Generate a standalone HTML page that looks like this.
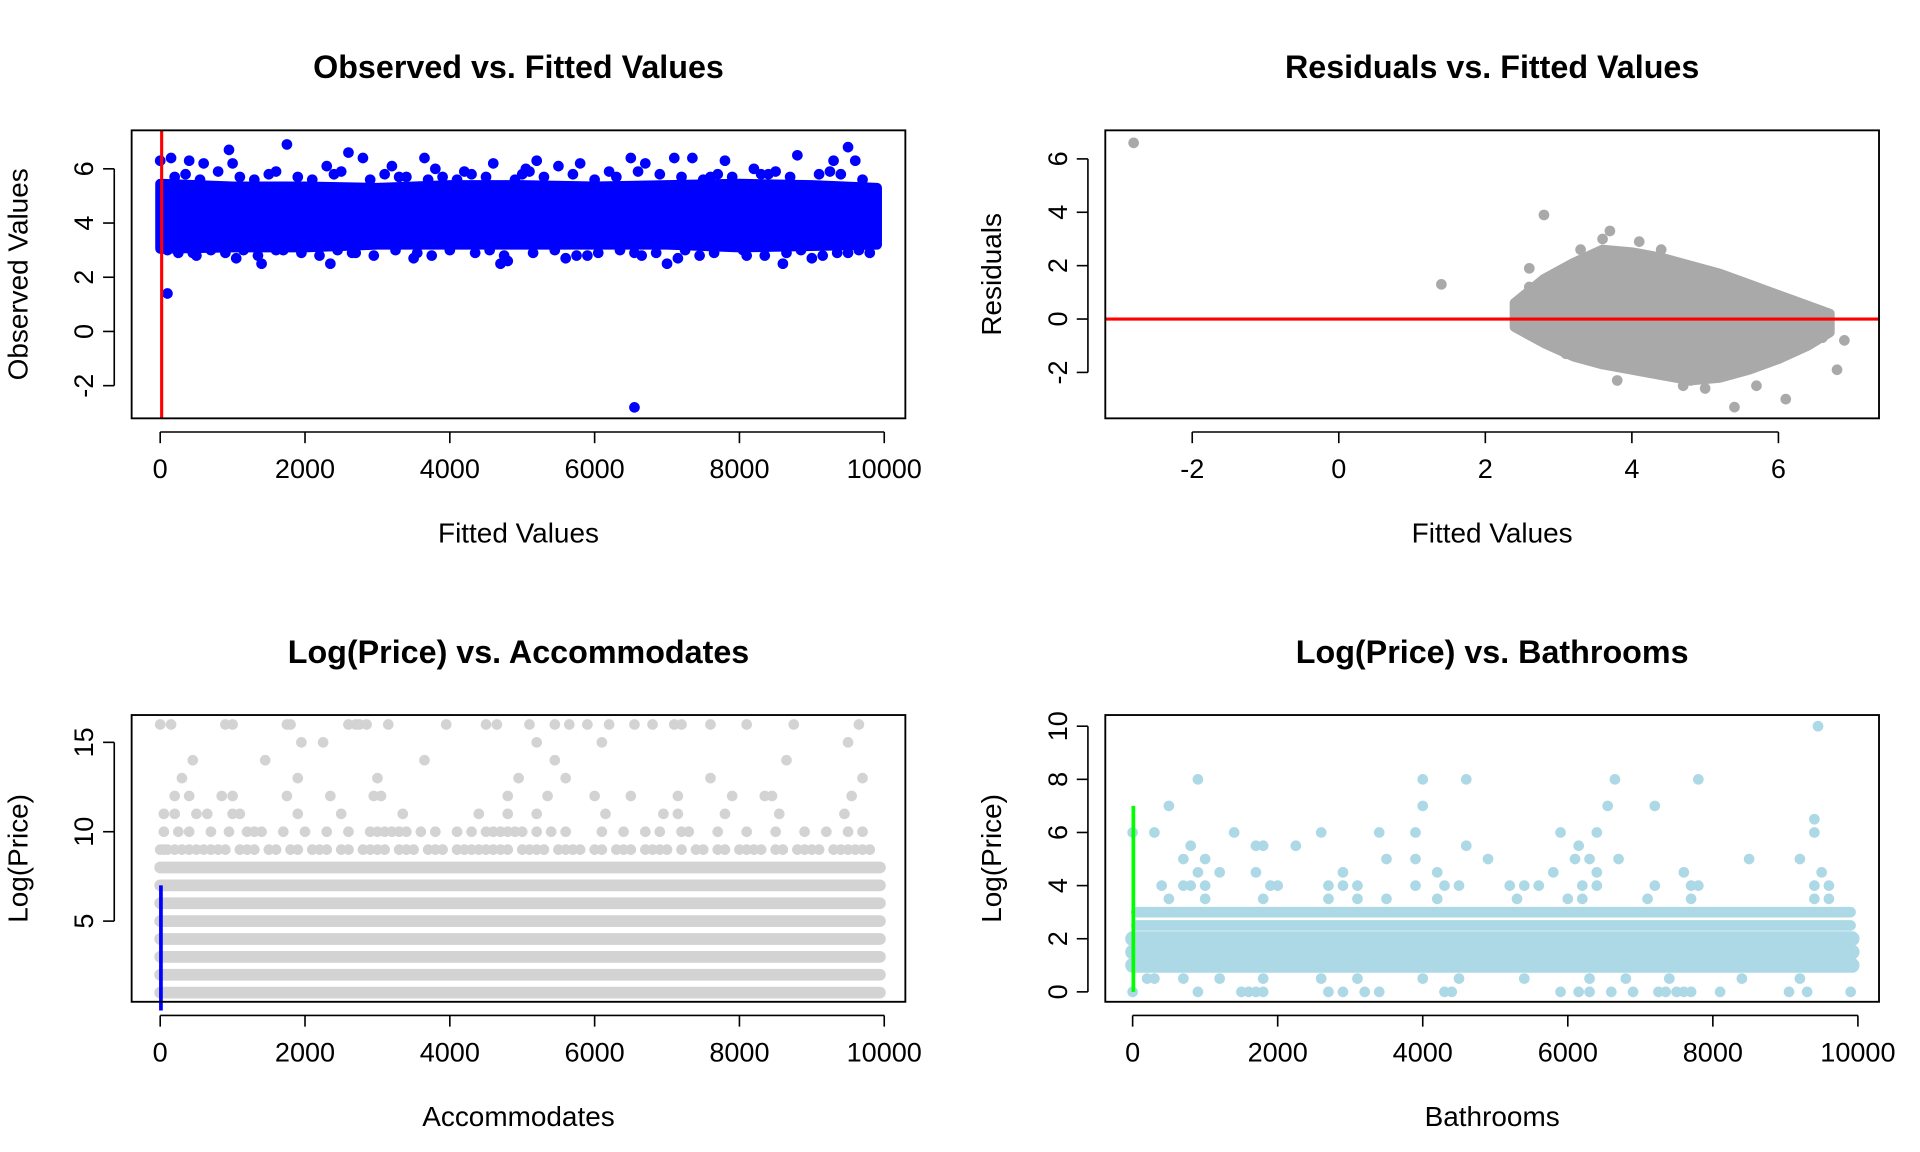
<!DOCTYPE html>
<html><head><meta charset="utf-8">
<style>
html,body{margin:0;padding:0;background:#fff;}
svg{display:block;}
text{font-family:"Liberation Sans",Arial,sans-serif;fill:#000;}
</style></head>
<body>
<svg id="chart" width="1920" height="1152" viewBox="0 0 1546 928" preserveAspectRatio="none" xmlns="http://www.w3.org/2000/svg"></svg>
<script>
// ---------- Panel 1 data: Observed vs Fitted ----------
const p1BinX = [0,1000,2000,3000,4000,5000,6000,7000,8000,9000,9900];
const p1BandLow = [3.05,3.1,3.1,3.2,3.2,3.2,3.2,3.2,3.1,3.15,3.2];
const p1BandHigh = [5.45,5.35,5.35,5.3,5.4,5.4,5.35,5.4,5.45,5.4,5.3];
const p1OutX = [0,150,400,600,950,1000,1750,2300,2600,2800,3200,3650,3800,4600,5050,5200,5500,5800,6500,6700,7100,7350,7800,8200,8800,9300,9500,9600,100,450,1050,1400,1600,2350,2700,3500,4700,4800,5600,5900,6550,7000,7150,8100,8600,9000,9500,1500,3300,4200,5000,6200,7600,8400,100,6550];
const p1OutY = [6.3,6.4,6.3,6.2,6.7,6.2,6.9,6.1,6.6,6.4,6.1,6.4,6.0,6.2,6.0,6.3,6.1,6.2,6.4,6.2,6.4,6.4,6.3,6.0,6.5,6.3,6.8,6.3,3.0,2.9,2.7,2.5,3.0,2.5,2.9,2.7,2.5,2.6,2.7,2.8,2.9,2.5,2.7,2.8,2.5,2.7,2.9,5.8,5.7,5.9,5.8,5.9,5.7,5.8,1.4,-2.8];
const p1FringeX = [200,350,550,800,1100,1300,1600,1900,2100,2400,2500,2900,3100,3400,3700,3900,4100,4300,4500,4900,5100,5300,5700,6000,6300,6600,6900,7200,7500,7700,7900,8300,8500,8700,9100,9250,9400,9700,
 250,500,700,900,1150,1350,1700,1950,2200,2450,2650,2950,3250,3550,3750,4000,4350,4550,4750,5150,5450,5750,6050,6350,6650,6850,7250,7450,7650,8050,8350,8650,8850,9150,9350,9650,9800];
const p1FringeY = [5.7,5.8,5.6,5.9,5.7,5.6,5.9,5.7,5.6,5.8,5.9,5.6,5.8,5.7,5.6,5.7,5.6,5.8,5.7,5.6,5.9,5.7,5.8,5.6,5.7,5.9,5.8,5.7,5.6,5.8,5.7,5.8,5.9,5.7,5.8,5.9,5.8,5.6,
 2.9,2.8,3.0,2.9,3.0,2.8,3.0,2.9,2.8,3.0,2.9,2.8,3.0,2.9,2.8,3.0,2.9,3.0,2.8,2.9,3.0,2.8,2.9,3.0,2.8,2.9,3.0,2.8,2.9,3.0,2.8,2.9,3.0,2.8,2.9,3.0,2.9];
// ---------- Panel 2 data: Residuals vs Fitted ----------
const p2CloudX = [2.4,2.8,3.2,3.6,4.0,4.4,4.8,5.2,5.6,6.0,6.4,6.7];
const p2Upper = [0.6,1.5,2.1,2.6,2.5,2.3,2.0,1.7,1.3,0.9,0.5,0.2];
const p2Lower = [-0.3,-0.9,-1.4,-1.7,-1.9,-2.1,-2.3,-2.2,-1.9,-1.5,-1.0,-0.5];
const p2OutX = [-2.8,1.4,2.8,3.7,3.6,3.3,4.1,4.4,6.9,6.8,6.1,5.4,5.0,3.2,5.7,2.6,2.6,6.3,4.7,4.8,3.8,6.6,3.1];
const p2OutY = [6.6,1.3,3.9,3.3,3.0,2.6,2.9,2.6,-0.8,-1.9,-3.0,-3.3,-2.6,2.0,-2.5,1.9,1.2,-0.4,-2.5,-2.3,-2.3,-0.7,-1.3];
// ---------- Panel 3 data: Log(Price) vs Accommodates ----------
const p3DenseRows = [1,2,3,4,5,6,7,8];
const p3SparseRows = [9,10,11,12,13,14,15,16];
const p3SparseX = [
 [0,50,100,200,300,400,500,600,700,800,900,1100,1200,1300,1500,1600,1800,1900,2100,2200,2300,2500,2600,2800,2900,3000,3100,3300,3400,3500,3700,3800,3900,4100,4200,4300,4400,4500,4600,4700,4800,5000,5100,5200,5300,5500,5600,5700,5800,6000,6100,6300,6400,6500,6700,6800,6900,7000,7200,7400,7500,7700,7800,8000,8100,8200,8300,8500,8600,8800,8900,9000,9100,9300,9400,9500,9600,9700,9800],
 [50,250,400,700,950,1200,1300,1400,1700,2000,2300,2600,2900,3000,3100,3200,3300,3400,3600,3800,4100,4300,4500,4600,4700,4800,4900,5000,5200,5400,5600,6100,6400,6700,6900,7200,7300,7700,8100,8500,8900,9200,9500,9700],
 [50,200,500,650,1000,1100,1900,2500,3350,4400,4800,5200,6150,6950,7150,7800,8550,9450],
 [200,400,850,1000,1750,2350,2950,3050,4800,5350,6000,6500,7150,7900,8350,8450,9550],
 [300,1900,3000,4950,5600,7600,9700],
 [450,1450,3650,5450,8650],
 [1950,2250,5200,6100,9500],
 [0,150,900,1000,1750,1800,2600,2700,2750,2850,3150,3950,4500,4650,5100,5450,5650,5900,6200,6550,6800,7100,7200,7600,8100,8750,9650]
];
// ---------- Panel 4 data: Log(Price) vs Bathrooms ----------
const p4DenseRows = [1,1.5,2];
const p4MidRows = [2.5,3];
const p4SparseRows = [0,0.5,3.5,4,4.5,5,5.5,6,6.5,7,8,10];
const p4SparseX = [
 [0,900,1500,1600,1700,1800,2700,2900,3200,3400,4300,4400,5900,6150,6300,6600,6900,7250,7350,7500,7600,7700,8100,9050,9300,9900],
 [200,300,700,1200,1800,2600,3100,4000,4500,5400,6300,6800,7400,8400,9200],
 [500,1000,1800,2700,3100,3500,4200,5300,6000,6200,7100,7700,9400,9600],
 [400,700,800,1000,1900,2000,2700,2900,3100,3900,4300,4500,5200,5400,5600,6200,6400,7200,7700,7800,9400,9600],
 [900,1200,1700,2900,4200,5800,6400,7600,9500],
 [700,1000,3500,3900,4900,6100,6300,6700,8500,9200],
 [800,1700,1800,2250,4600,6150],
 [0,300,1400,2600,3400,3900,5900,6400,9400],
 [9400],
 [500,4000,6550,7200],
 [900,4000,4600,6650,7800],
 [9450]
];

const svg = document.getElementById('chart');
const NS = 'http://www.w3.org/2000/svg';
const R = 4.3;
function mk(tag, attrs, parent){const e=document.createElementNS(NS,tag);for(const k in attrs)e.setAttribute(k,attrs[k]);(parent||svg).appendChild(e);return e;}
function lin(d0,d1,r0,r1){return v=>r0+(v-d0)*(r1-r0)/(d1-d0);}
function dot(g,x,y,c){const e=mk('circle',{cx:x,cy:y,r:R,fill:c},g);

}

function frame(name,box,title,xl,yl,xs,xticks,ys,yticks){
 const g=mk('g',{});
 
 
 const t=mk('text',{x:(box.x0+box.x1)/2,y:box.y0-42,'text-anchor':'middle','font-size':26,'font-weight':'bold'},g);t.textContent=title;
 
 const xlab=mk('text',{x:(box.x0+box.x1)/2,y:box.y1+100,'text-anchor':'middle','font-size':22.5},g);xlab.textContent=xl;
 
 const cx=box.x0-84,cy=(box.y0+box.y1)/2;
 const ylab=mk('text',{x:cx,y:cy,'text-anchor':'middle','font-size':22.5,transform:`rotate(-90 ${cx} ${cy})`},g);ylab.textContent=yl;
 
 const xa=mk('g',{},g);
 mk('line',{x1:xs(xticks[0]),x2:xs(xticks[xticks.length-1]),y1:box.y1+11,y2:box.y1+11,stroke:'#000','stroke-width':1.3},xa);
 xticks.forEach(v=>{mk('line',{x1:xs(v),x2:xs(v),y1:box.y1+11,y2:box.y1+20,stroke:'#000','stroke-width':1.3},xa);
  const tt=mk('text',{x:xs(v),y:box.y1+48,'text-anchor':'middle','font-size':21.8},xa);tt.textContent=v;
  });
 const ya=mk('g',{},g);
 mk('line',{x1:box.x0-14,x2:box.x0-14,y1:ys(yticks[0]),y2:ys(yticks[yticks.length-1]),stroke:'#000','stroke-width':1.3},ya);
 yticks.forEach(v=>{mk('line',{x1:box.x0-14,x2:box.x0-23,y1:ys(v),y2:ys(v),stroke:'#000','stroke-width':1.3},ya);
  const px=box.x0-31,py=ys(v);
  const tt=mk('text',{x:px,y:py,'text-anchor':'middle','font-size':21.8,transform:`rotate(-90 ${px} ${py})`},ya);tt.textContent=v;
  });
 return g;
}
function border(g,box){const r=mk('rect',{x:box.x0,y:box.y0,width:box.x1-box.x0,height:box.y1-box.y0,fill:'none',stroke:'#000','stroke-width':1.5},g);
 }

// Panel 1
{const box={x0:106,x1:729,y0:105,y1:337};
 const xs=lin(0,10000,129,712), ys=lin(0,6,267,136);
 const g=frame('observed-vs-fitted-panel',box,'Observed vs. Fitted Values','Fitted Values','Observed Values',xs,[0,2000,4000,6000,8000,10000],ys,[-2,0,2,4,6]);
 let pts=p1BinX.map((x,i)=>`${xs(x)},${ys(p1BandHigh[i])}`).concat(p1BinX.map((x,i)=>`${xs(x)},${ys(p1BandLow[i])}`).reverse());
 const band=mk('polygon',{points:pts.join(' '),fill:'#0000ff',stroke:'#0000ff','stroke-width':8,'stroke-linejoin':'round'},g);
 
 p1FringeX.forEach((x,i)=>dot(g,xs(x),ys(p1FringeY[i]),'#0000ff'));
 p1OutX.forEach((x,i)=>dot(g,xs(x),ys(p1OutY[i]),'#0000ff'));
 const l=mk('line',{x1:xs(20),x2:xs(20),y1:box.y0,y2:box.y1,stroke:'#ff0000','stroke-width':2.5},g);
 
 border(g,box);}
// Panel 2
{const box={x0:890,x1:1513,y0:105,y1:337};
 const xs=lin(0,2,1078,1196), ys=lin(0,6,257,128);
 const g=frame('residuals-vs-fitted-panel',box,'Residuals vs. Fitted Values','Fitted Values','Residuals',xs,[-2,0,2,4,6],ys,[-2,0,2,4,6]);
 let pts=p2CloudX.map((x,i)=>`${xs(x)},${ys(p2Upper[i])}`).concat(p2CloudX.map((x,i)=>`${xs(x)},${ys(p2Lower[i])}`).reverse());
 const c=mk('polygon',{points:pts.join(' '),fill:'#a9a9a9',stroke:'#a9a9a9','stroke-width':8,'stroke-linejoin':'round'},g);
 
 p2OutX.forEach((x,i)=>dot(g,xs(x),ys(p2OutY[i]),'#a9a9a9'));
 const l=mk('line',{x1:box.x0,x2:box.x1,y1:ys(0),y2:ys(0),stroke:'#ff0000','stroke-width':2.5},g);
 
 border(g,box);}
// Panel 3
{const box={x0:106,x1:729,y0:576,y1:807};
 const xs=lin(0,10000,129,712), ys=lin(5,15,742,598);
 const g=frame('price-vs-accommodates-panel',box,'Log(Price) vs. Accommodates','Accommodates','Log(Price)',xs,[0,2000,4000,6000,8000,10000],ys,[5,10,15]);
 p3DenseRows.forEach(v=>{const r=mk('line',{x1:xs(0),x2:xs(9940),y1:ys(v),y2:ys(v),stroke:'#d3d3d3','stroke-width':9.5,'stroke-linecap':'round'},g);
  });
 p3SparseRows.forEach((v,i)=>p3SparseX[i].forEach(x=>dot(g,xs(x),ys(v),'#d3d3d3')));
 const l=mk('line',{x1:xs(10),x2:xs(10),y1:ys(0),y2:ys(7),stroke:'#0000ff','stroke-width':3},g);
 
 border(g,box);}
// Panel 4
{const box={x0:890,x1:1513,y0:576,y1:807};
 const xs=lin(0,10000,912,1496), ys=lin(0,10,799,585);
 const g=frame('price-vs-bathrooms-panel',box,'Log(Price) vs. Bathrooms','Bathrooms','Log(Price)',xs,[0,2000,4000,6000,8000,10000],ys,[0,2,4,6,8,10]);
 p4DenseRows.forEach(v=>{const r=mk('line',{x1:xs(0),x2:xs(9920),y1:ys(v),y2:ys(v),stroke:'#add8e6','stroke-width':12,'stroke-linecap':'round'},g);
  });
 p4MidRows.forEach(v=>{const r=mk('line',{x1:xs(50),x2:xs(9900),y1:ys(v),y2:ys(v),stroke:'#add8e6','stroke-width':8.5,'stroke-linecap':'round'},g);
  });
 p4SparseRows.forEach((v,i)=>p4SparseX[i].forEach(x=>dot(g,xs(x),ys(v),'#add8e6')));
 const l=mk('line',{x1:xs(10),x2:xs(10),y1:ys(0),y2:ys(7),stroke:'#00ff00','stroke-width':3},g);
 
 border(g,box);}
</script>
</body></html>
